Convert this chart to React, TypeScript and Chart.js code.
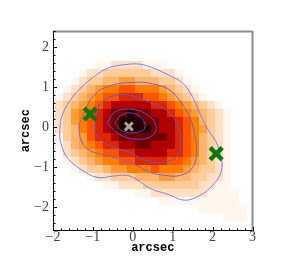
import { useEffect, useRef } from 'react';
import { Chart, registerables } from 'chart.js';
Chart.register(...registerables);

const X_MIN = -2, X_MAX = 3, Y_MIN = -2.575, Y_MAX = 2.4;
const xTickLabels = [-2, -1, 0, 1, 2, 3];
const yTickLabels = [-2, -1, 0, 1, 2];
const minorStep = 0.2;

// heat map: cell size and top-left corner (arcsec), levels '.'=0 .. 'b'=11
const cellSize = 0.2;
const gridLeft = -1.95;
const gridTop = 1.85;
const heatRows = [
  '........................',
  '.....112222111..........',
  '...1223333332221........',
  '..123344554443321.......',
  '.12345667766654321......',
  '1234567788877654321.....',
  '234567899999887654321...',
  '2356789aabaa9987654321..',
  '2356789abbbaa998764321..',
  '2346789abbbba998765321..',
  '13457889aaaaaa98764321..',
  '1245678899aa9998764321..',
  '.234567788999988764321..',
  '.123456677888877654321..',
  '..12334556667666543321..',
  '....122333444554433221..',
  '......1122233333332211..',
  '..........1122222221111.',
  '.............1111111111.',
  '..................111111',
  '.....................111',
  '........................',
];
const levelT = [1, 0.982, 0.94, 0.9, 0.855, 0.805, 0.745, 0.665, 0.575, 0.46, 0.3, 0.09];

const contour1 = [
  [-0.3, 1.55], [0.1, 1.58], [0.45, 1.5], [0.9, 1.3], [1.25, 1.1], [1.5, 0.75], [1.68, 0.35],
  [1.9, -0.08], [2.08, -0.35], [2.2, -0.7], [2.22, -1.1], [2.0, -1.45], [1.68, -1.7], [1.3, -1.82],
  [0.9, -1.68], [0.42, -1.52], [0.1, -1.3], [-0.15, -1.2], [-0.5, -1.22], [-0.9, -1.25],
  [-1.3, -1.05], [-1.65, -0.75], [-1.8, -0.4], [-1.83, -0.08], [-1.75, 0.35], [-1.4, 0.88],
  [-0.85, 1.35], [-0.55, 1.5], [-0.3, 1.55],
];
const contour2 = [
  [-0.83, 0.93], [-0.4, 1.08], [0.1, 1.12], [0.42, 1.1], [0.92, 0.93], [1.22, 0.6], [1.45, 0.2],
  [1.55, -0.2], [1.6, -0.6], [1.5, -1.0], [1.2, -1.2], [0.8, -1.2], [0.42, -1.12], [0.0, -0.9],
  [-0.57, -0.72], [-1.15, -0.53], [-1.35, -0.05], [-1.22, 0.35], [-1.05, 0.7], [-0.83, 0.93],
];
const contour3 = [
  [-0.95, 0.2], [-0.8, 0.6], [-0.4, 0.8], [0.0, 0.78], [0.42, 0.62], [0.85, 0.42], [1.1, 0.1],
  [1.2, -0.3], [1.15, -0.65], [0.9, -0.85], [0.4, -0.85], [-0.1, -0.62], [-0.6, -0.45],
  [-0.9, -0.2], [-0.95, 0.2],
];
const contour4 = [
  [-0.65, 0.1], [-0.45, 0.38], [-0.05, 0.45], [0.35, 0.32], [0.58, 0.05], [0.5, -0.2],
  [0.15, -0.3], [-0.3, -0.2], [-0.65, 0.1],
];
const contour5 = [
  [-0.45, 0.1], [-0.3, 0.3], [0.0, 0.35], [0.25, 0.2], [0.3, -0.02], [0.1, -0.13],
  [-0.25, -0.1], [-0.45, 0.1],
];
const brightSources = [[-1.07, 0.33], [2.09, -0.66]];
const centroid = [[-0.1, 0.02]];

function heatColor(t: number) {
  const c = (v: number) => Math.round(255 * Math.max(0, Math.min(1, v)));
  return `rgb(${c(1.5 * t)},${c(2 * t - 1)},${c(4 * t - 3)})`;
}
const fmt = (v: number) => (v < 0 ? '\u2212' + Math.abs(v) : String(v));
const pts = (a: number[][]) => a.map(([x, y]) => ({ x, y }));

const heatPlugin = {
  id: 'heat',
  beforeDatasetsDraw(chart: any) {
    const { ctx, chartArea, scales } = chart;
    const xs = scales.x, ys = scales.y;
    ctx.save();
    ctx.beginPath();
    ctx.rect(chartArea.left, chartArea.top, chartArea.right - chartArea.left, chartArea.bottom - chartArea.top);
    ctx.clip();
    heatRows.forEach((row, r) => {
      for (let c = 0; c < row.length; c++) {
        const v = parseInt(row[c], 16);
        if (!v) continue;
        const x0 = Math.round(xs.getPixelForValue(gridLeft + c * cellSize));
        const x1 = Math.round(xs.getPixelForValue(gridLeft + (c + 1) * cellSize));
        const y0 = Math.round(ys.getPixelForValue(gridTop - r * cellSize));
        const y1 = Math.round(ys.getPixelForValue(gridTop - (r + 1) * cellSize));
        ctx.fillStyle = heatColor(levelT[v]);
        ctx.fillRect(x0, y0, x1 - x0, y1 - y0);
      }
    });
    ctx.restore();
  },
};

const framePlugin = {
  id: 'frame',
  afterDatasetsDraw(chart: any) {
    const { ctx, chartArea: a, scales } = chart;
    const xs = scales.x, ys = scales.y;
    ctx.save();
    ctx.strokeStyle = '#8c8c8c';
    ctx.lineWidth = 2;
    ctx.beginPath();
    ctx.moveTo(a.left, a.top + 0.5);
    ctx.lineTo(a.right, a.top + 0.5);
    ctx.moveTo(a.right, a.top);
    ctx.lineTo(a.right, a.bottom);
    ctx.stroke();
    ctx.strokeStyle = '#000';
    ctx.lineWidth = 1;
    ctx.beginPath();
    ctx.moveTo(Math.round(a.left) + 0.5, a.top);
    ctx.lineTo(Math.round(a.left) + 0.5, a.bottom);
    ctx.moveTo(a.left, Math.round(a.bottom) - 0.5);
    ctx.lineTo(a.right, Math.round(a.bottom) - 0.5);
    ctx.stroke();
    ctx.beginPath();
    for (let k = Math.ceil(X_MIN / minorStep); k * minorStep <= X_MAX + 1e-9; k++) {
      const v = k * minorStep;
      const major = Math.abs(v - Math.round(v)) < 1e-6;
      const px = Math.round(xs.getPixelForValue(v)) + 0.5;
      ctx.moveTo(px, Math.round(a.bottom));
      ctx.lineTo(px, Math.round(a.bottom) - (major ? 4 : 2.5));
    }
    for (let k = Math.ceil(Y_MIN / minorStep); k * minorStep <= Y_MAX + 1e-9; k++) {
      const v = k * minorStep;
      const major = Math.abs(v - Math.round(v)) < 1e-6;
      const py = Math.round(ys.getPixelForValue(v)) + 0.5;
      ctx.moveTo(Math.round(a.left), py);
      ctx.lineTo(Math.round(a.left) + (major ? 4 : 2.5), py);
    }
    ctx.stroke();
    ctx.restore();
  },
};

export default function App() {
  const ref = useRef<HTMLCanvasElement>(null);
  useEffect(() => {
    document.body.style.margin = '0';
    const contourStyle = (data: number[][], color: string) => ({
      data: pts(data),
      showLine: true,
      pointRadius: 0,
      borderColor: color,
      borderWidth: 1,
      tension: 0.4,
      fill: false,
    });
    const tickFont = { family: "'Liberation Serif', 'Times New Roman', serif", size: 14 };
    const titleFont = { family: "'Liberation Mono', 'Courier New', monospace", size: 12, weight: 'bold' };
    const chart = new Chart(ref.current!, {
      type: 'scatter',
      data: {
        datasets: [
          {
            data: pts(centroid),
            pointStyle: 'crossRot',
            pointRadius: 5.5,
            pointBorderWidth: 3,
            borderColor: '#a6a6a6',
            backgroundColor: '#a6a6a6',
          },
          {
            data: pts(brightSources),
            pointStyle: 'crossRot',
            pointRadius: 8.5,
            pointBorderWidth: 4.5,
            borderColor: '#0b7a0b',
            backgroundColor: '#0b7a0b',
          },
          contourStyle(contour5, '#5248c4'),
          contourStyle(contour4, '#5a4fc8'),
          contourStyle(contour3, '#6358d0'),
          contourStyle(contour2, '#6e64dc'),
          contourStyle(contour1, '#7f7ff5'),
        ] as any,
      },
      options: {
        animation: false,
        responsive: true,
        maintainAspectRatio: false,
        layout: { padding: { top: 31, right: 46.5, left: 0, bottom: 0 } },
        plugins: { legend: { display: false }, tooltip: { enabled: false } },
        scales: {
          x: {
            type: 'linear',
            min: X_MIN,
            max: X_MAX,
            afterBuildTicks: (s: any) => { s.ticks = xTickLabels.map((v) => ({ value: v })); },
            afterFit: (s: any) => { s.height = 28.5; },
            grid: { display: false, drawTicks: false },
            border: { display: false },
            ticks: {
              autoSkip: false, maxRotation: 0, padding: -2, color: '#444',
              font: tickFont,
              callback: (v: any) => fmt(Number(v)),
            },
            title: {
              display: true, text: 'arcsec', color: '#000', padding: { top: 0, bottom: 4 },
              font: titleFont,
            },
          },
          y: {
            type: 'linear',
            min: Y_MIN,
            max: Y_MAX,
            afterBuildTicks: (s: any) => { s.ticks = yTickLabels.map((v) => ({ value: v })); },
            afterFit: (s: any) => { s.width = 53; },
            grid: { display: false, drawTicks: false },
            border: { display: false },
            ticks: {
              autoSkip: false, padding: 4, color: '#444',
              font: tickFont,
              callback: (v: any) => fmt(Number(v)),
            },
            title: {
              display: true, text: 'arcsec', color: '#000', padding: { top: 19, bottom: 0 },
              font: titleFont,
            },
          },
        },
      },
      plugins: [heatPlugin, framePlugin],
    });
    return () => chart.destroy();
  }, []);
  return (
    <div style={{ position: 'absolute', left: 0, top: 0, width: 299, height: 259 }}>
      <canvas ref={ref} />
    </div>
  );
}
